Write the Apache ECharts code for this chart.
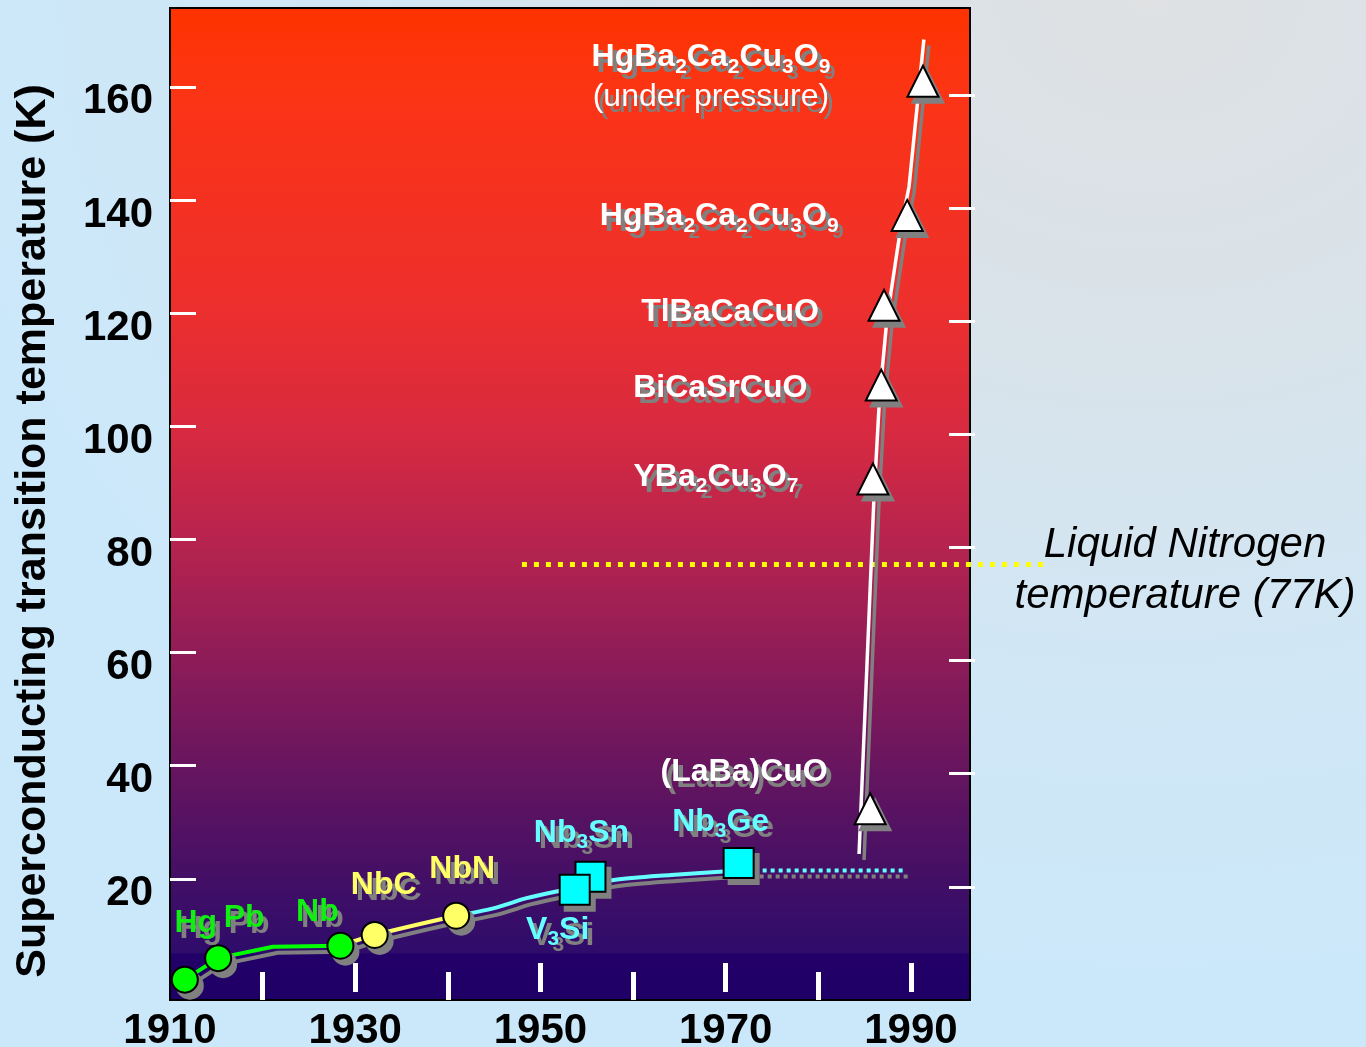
<!DOCTYPE html>
<html>
<head>
<meta charset="utf-8">
<title>Superconducting transition temperature vs year</title>
<script src="https://cdn.jsdelivr.net/npm/echarts@6/dist/echarts.min.js"></script>
<style>
  html, body {
    margin: 0; padding: 0; width: 1366px; height: 1047px; overflow: hidden;
    background: radial-gradient(ellipse 1250px 1000px at 1150px 0px, #dfe1e3 0%, #d9e3ea 35%, #d0e7f6 70%, #cbe8fa 100%);
  }
  #chart { width: 1366px; height: 1047px; }
</style>
</head>
<body>
<div id="chart"></div>
<script>
// ---- axis ticks and labels ----
const yearLabels = [1910, 1930, 1950, 1970, 1990];
const yearMinorTicks = [1920, 1940, 1960, 1980];
const tempTicks = [20, 40, 60, 80, 100, 120, 140, 160];

// ---- elemental superconductors (green circles) ----
const elementNames = ['Hg', 'Pb', 'Nb'];
const elementYears = [1911.6, 1915.2, 1928.4];
const elementTc = [3.6, 7.4, 9.6];

// ---- carbide / nitride (yellow circles) ----
const carbideNames = ['NbC', 'NbN'];
const carbideYears = [1932.1, 1940.9];
const carbideTc = [11.5, 14.9];

// ---- A15 compounds (cyan squares) ----
const a15Names = ['Nb3Sn', 'V3Si', 'Nb3Ge'];
const a15Years = [1955.4, 1953.7, 1971.4];
const a15Tc = [21.8, 19.5, 24.2];

// ---- cuprates (white triangles) ----
const cuprateNames = ['(LaBa)CuO', 'YBa2Cu3O7', 'BiCaSrCuO', 'TlBaCaCuO', 'HgBa2Ca2Cu3O9', 'HgBa2Ca2Cu3O9'];
const cuprateNotes = ['', '', '', '', '', '(under pressure)'];
const cuprateYears = [1985.6, 1985.9, 1986.8, 1987.1, 1989.6, 1991.3];
const cuprateTc = [33.8, 92.1, 108.7, 122.8, 138.7, 162.4];

// ---- trend curves ----
const trendGreenYears = [1911.6, 1915.2, 1921.1, 1928.4];
const trendGreenTc = [3.6, 7.4, 9.4, 9.6];
const trendYellowYears = [1928.4, 1932.1, 1940.9];
const trendYellowTc = [9.6, 11.5, 14.9];
const trendCyanYears = [1940.9, 1944.9, 1948.5, 1952.1, 1957.9, 1964.1, 1971.4];
const trendCyanTc = [14.9, 16.2, 18.0, 19.3, 21.2, 22.1, 22.9];
const a15PlateauYears = [1971.4, 1989.2];
const a15PlateauTc = [22.9, 22.9];
const cuprateTrendYears = [1984.4, 1986.0, 1986.6, 1987.4, 1988.8, 1989.8, 1991.4];
const cuprateTrendTc = [25.8, 88.4, 106.1, 120.2, 135.5, 143.8, 169.8];

// ---- liquid nitrogen reference ----
const nitrogenK = 77;
const nitrogenYears = [1948.0, 2004.5];

// ================= styling / layout =================
const FONT = '"Liberation Sans", Arial, Helvetica, sans-serif';
const X_MIN = 1910, X_MAX = 1996.38;
const Y_MIN = 0, Y_MAX = 175.36;
const GRID = { left: 170, top: 8, width: 800, height: 992 };
const WIDE = 900;               // wider overlay grid for the 77 K line that runs out to its caption
const LEFT_TICK_SHIFT = 1.41;   // left-hand tick marks sit slightly higher
const SHADOW_GREY = '#808080';
const SHADOW_OFFSET = [5, 6];
const LINE_SHADOW = { shadowColor: SHADOW_GREY, shadowBlur: 0, shadowOffsetX: 5, shadowOffsetY: 6 };
const TEXT_SHADOW = { textShadowColor: SHADOW_GREY, textShadowBlur: 0.01, textShadowOffsetX: 5, textShadowOffsetY: 6 };

const elementLabelOffsets = [[11, -56], [26, -40], [-23, -34]];
const carbideLabelOffsets = [[9, -50], [6, -47]];
const a15LabelOffsets = [[-9, -44], [-17, 40], [-18, -41]];
const cuprateLabelOffsets = [[-126, -37], [-157, -2], [-161, 3], [-154, 7], [-188, 1], [-212, -4]];

const pairs = (xs, ys) => xs.map((x, i) => [x, ys[i]]);

function formula(name) {
  return ('{m|' + name.replace(/(\d+)/g, '}{s|$1}{m|') + '}').replace(/\{m\|\}/g, '');
}

function rich(color) {
  return {
    m: Object.assign({ fontFamily: FONT, fontSize: 32, fontWeight: 'bold', color, lineHeight: 40 }, TEXT_SHADOW),
    s: Object.assign({ fontFamily: FONT, fontSize: 21, fontWeight: 'bold', color, lineHeight: 16, verticalAlign: 'bottom' }, TEXT_SHADOW),
    p: Object.assign({ fontFamily: FONT, fontSize: 32, fontWeight: 'normal', color, lineHeight: 40 }, TEXT_SHADOW)
  };
}

// grey drop-shadow copy of a marker set, drawn underneath it
function markerShadow(years, tcs, opts) {
  return {
    type: 'scatter', silent: true, z: 4,
    symbol: opts.symbol, symbolSize: opts.size, symbolOffset: SHADOW_OFFSET,
    itemStyle: { color: SHADOW_GREY, borderColor: SHADOW_GREY, borderWidth: 2, opacity: 1 },
    data: pairs(years, tcs)
  };
}

function markerSeries(names, years, tcs, offsets, opts) {
  return {
    type: 'scatter', silent: true, z: 5,
    symbol: opts.symbol, symbolSize: opts.size,
    itemStyle: { color: opts.fill, borderColor: '#000', borderWidth: 2, opacity: 1 },
    data: names.map((n, i) => ({
      value: [years[i], tcs[i]],
      label: {
        show: true,
        position: 'inside',
        offset: offsets[i],
        align: 'center',
        verticalAlign: 'middle',
        formatter: formula(n) + (opts.notes && opts.notes[i] ? '\n{p|' + opts.notes[i] + '}' : ''),
        rich: rich(opts.text)
      }
    }))
  };
}

function curve(xs, ys, color, width, extra) {
  return Object.assign({
    type: 'line', silent: true, z: 3, symbol: 'none',
    data: pairs(xs, ys),
    lineStyle: Object.assign({ color, width, cap: 'butt', join: 'round' }, LINE_SHADOW)
  }, extra || {});
}

const plotGradient = {
  type: 'linear', x: 0, y: 0, x2: 0, y2: 1,
  colorStops: [
    { offset: 0.000, color: '#ff3300' },
    { offset: 0.093, color: '#fb3416' },
    { offset: 0.294, color: '#ee2f2c' },
    { offset: 0.425, color: '#d82a40' },
    { offset: 0.546, color: '#b4234f' },
    { offset: 0.657, color: '#8d1c58' },
    { offset: 0.768, color: '#66155f' },
    { offset: 0.879, color: '#420f66' },
    { offset: 0.9516, color: '#2f0c6b' },
    { offset: 0.9526, color: '#220068' },
    { offset: 1.000, color: '#1f0066' }
  ]
};

const chart = echarts.init(document.getElementById('chart'), null, { renderer: 'canvas' });

const hiddenX = {
  type: 'value', min: X_MIN, max: X_MAX, position: 'bottom',
  axisLine: { show: false }, splitLine: { show: false }, axisLabel: { show: false }
};

const circleOpts = { symbol: 'circle', size: 26 };
const squareOpts = { symbol: 'rect', size: 30 };
const triangleOpts = { symbol: 'triangle', size: 31 };

chart.setOption({
  animation: false,
  backgroundColor: 'transparent',
  grid: [
    Object.assign({
      show: true, backgroundColor: plotGradient, borderColor: '#000', borderWidth: 2,
      containLabel: false, outerBoundsMode: 'none'
    }, GRID),
    {
      left: GRID.left, top: GRID.top, width: WIDE, height: GRID.height, show: false,
      containLabel: false, outerBoundsMode: 'none'
    }
  ],
  xAxis: [
    {
      type: 'value', min: X_MIN, max: X_MAX, position: 'bottom',
      axisLine: { show: false }, axisTick: { show: false }, splitLine: { show: false },
      axisLabel: {
        customValues: yearLabels, formatter: v => String(v),
        fontSize: 42, fontWeight: 'bold', color: '#000', fontFamily: FONT, margin: 10
      }
    },
    Object.assign({}, hiddenX, {
      offset: 6,
      axisTick: { show: true, inside: true, length: 29, customValues: yearLabels.slice(1), lineStyle: { color: '#fff', width: 5 } }
    }),
    Object.assign({}, hiddenX, {
      offset: 14,
      axisTick: { show: true, inside: true, length: 28, customValues: yearMinorTicks, lineStyle: { color: '#fff', width: 5 } }
    }),
    {
      type: 'value', gridIndex: 1, min: X_MIN, max: X_MIN + (X_MAX - X_MIN) * WIDE / GRID.width,
      show: false
    }
  ],
  yAxis: [
    {
      type: 'value', min: Y_MIN, max: Y_MAX, position: 'left',
      axisLine: { show: false }, axisTick: { show: false }, splitLine: { show: false },
      axisLabel: {
        customValues: tempTicks, fontSize: 42, fontWeight: 'bold', color: '#000',
        fontFamily: FONT, margin: 17, verticalAlign: 'top', lineHeight: 14
      }
    },
    {
      type: 'value', min: Y_MIN - LEFT_TICK_SHIFT, max: Y_MAX - LEFT_TICK_SHIFT, position: 'left',
      axisLine: { show: false }, splitLine: { show: false }, axisLabel: { show: false },
      axisTick: { show: true, inside: true, length: 26, customValues: tempTicks, lineStyle: { color: '#fff', width: 3 } }
    },
    {
      type: 'value', min: Y_MIN, max: Y_MAX, position: 'right', offset: 5,
      axisLine: { show: false }, splitLine: { show: false }, axisLabel: { show: false },
      axisTick: { show: true, inside: true, length: 26, customValues: tempTicks, lineStyle: { color: '#fff', width: 3 } }
    },
    { type: 'value', gridIndex: 1, min: Y_MIN, max: Y_MAX, show: false }
  ],
  graphic: [
    {
      type: 'text', x: 33, y: 531, rotation: Math.PI / 2, silent: true,
      style: {
        text: 'Superconducting transition temperature (K)',
        font: 'bold 43px ' + FONT, fill: '#000',
        align: 'center', verticalAlign: 'middle', textAlign: 'center', textVerticalAlign: 'middle'
      }
    },
    {
      type: 'text', x: 1185, y: 571, silent: true,
      style: {
        text: 'Liquid Nitrogen\ntemperature (77K)',
        font: 'italic 42px ' + FONT, fill: '#000', lineHeight: 51,
        align: 'center', verticalAlign: 'middle', textAlign: 'center', textVerticalAlign: 'middle'
      }
    }
  ],
  series: [
    // 77 K reference line, on the wider overlay grid so it reaches its caption
    {
      type: 'line', silent: true, z: 2, clip: false, symbol: 'none',
      xAxisIndex: 3, yAxisIndex: 3,
      data: nitrogenYears.map(y => [y, nitrogenK]),
      lineStyle: { color: '#ffff00', width: 5, type: [5, 7], cap: 'butt' }
    },
    curve(trendGreenYears, trendGreenTc, '#00ff00', 4),
    curve(trendYellowYears, trendYellowTc, '#ffff66', 4, { smooth: 0.3 }),
    curve(trendCyanYears, trendCyanTc, '#66ffff', 4, { smooth: 0.3 }),
    curve(a15PlateauYears, a15PlateauTc, '#66ffff', 4, {
      lineStyle: Object.assign({ color: '#66ffff', width: 4, type: [4, 4], cap: 'butt' }, LINE_SHADOW)
    }),
    curve(cuprateTrendYears, cuprateTrendTc, '#ffffff', 3.5),
    markerShadow(elementYears, elementTc, circleOpts),
    markerShadow(carbideYears, carbideTc, circleOpts),
    markerShadow(a15Years, a15Tc, squareOpts),
    markerShadow(cuprateYears, cuprateTc, triangleOpts),
    markerSeries(elementNames, elementYears, elementTc, elementLabelOffsets,
      Object.assign({ fill: '#00ff00', text: '#11ee11' }, circleOpts)),
    markerSeries(carbideNames, carbideYears, carbideTc, carbideLabelOffsets,
      Object.assign({ fill: '#ffff66', text: '#ffff66' }, circleOpts)),
    markerSeries(a15Names, a15Years, a15Tc, a15LabelOffsets,
      Object.assign({ fill: '#00ffff', text: '#66ffff' }, squareOpts)),
    markerSeries(cuprateNames, cuprateYears, cuprateTc, cuprateLabelOffsets,
      Object.assign({ fill: '#ffffff', text: '#ffffff', notes: cuprateNotes }, triangleOpts))
  ]
});
</script>
</body>
</html>
